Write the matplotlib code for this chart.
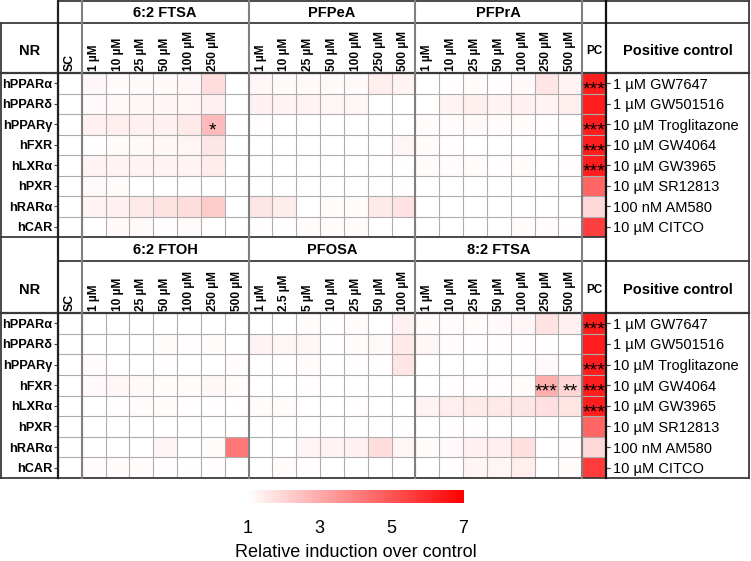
import numpy as np
import matplotlib
matplotlib.use('Agg')
import matplotlib.pyplot as plt
from matplotlib.colors import LinearSegmentedColormap

plt.rcParams['font.family'] = ['Liberation Sans', 'DejaVu Sans']

# ---------------- data ----------------
nr_labels = ['hPPARα', 'hPPARδ', 'hPPARγ', 'hFXR', 'hLXRα', 'hPXR', 'hRARα', 'hCAR']
pc_labels = ['1 µM GW7647', '1 µM GW501516', '10 µM Troglitazone', '10 µM GW4064',
             '10 µM GW3965', '10 µM SR12813', '100 nM AM580', '10 µM CITCO']

groups_top = ['6:2 FTSA', 'PFPeA', 'PFPrA']
groups_bottom = ['6:2 FTOH', 'PFOSA', '8:2 FTSA']

conc_62ftsa = ['1 µM', '10 µM', '25 µM', '50 µM', '100 µM', '250 µM', '']
conc_pfpea = ['1 µM', '10 µM', '25 µM', '50 µM', '100 µM', '250 µM', '500 µM']
conc_pfpra = ['1 µM', '10 µM', '25 µM', '50 µM', '100 µM', '250 µM', '500 µM']
conc_62ftoh = ['1 µM', '10 µM', '25 µM', '50 µM', '100 µM', '250 µM', '500 µM']
conc_pfosa = ['1 µM', '2.5 µM', '5 µM', '10 µM', '25 µM', '50 µM', '100 µM']
conc_82ftsa = ['1 µM', '10 µM', '25 µM', '50 µM', '100 µM', '250 µM', '500 µM']

nan = np.nan
sc_values = [1.0, 1.0, 1.0, 1.0, 1.0, 1.0, 1.0, 1.0]

vals_62ftsa = [
    [1.20, 1.10, 1.15, 1.15, 1.20, 1.80, nan],
    [1.15, 1.15, 1.20, 1.25, 1.25, 1.35, nan],
    [1.35, 1.40, 1.35, 1.35, 1.50, 2.60, nan],
    [1.05, 1.10, 1.15, 1.20, 1.25, 1.60, nan],
    [1.30, 1.30, 1.30, 1.30, 1.30, 1.45, nan],
    [1.15, 1.10, 1.00, 1.00, 1.05, 1.00, nan],
    [1.30, 1.35, 1.50, 1.70, 1.80, 2.20, nan],
    [1.00, 1.15, 1.15, 1.05, 1.10, 1.00, nan],
]
vals_pfpea = [
    [1.20, 1.15, 1.15, 1.15, 1.15, 1.40, 1.30],
    [1.35, 1.30, 1.30, 1.25, 1.20, 1.00, 1.00],
    [1.05, 1.00, 1.00, 1.00, 1.00, 1.00, 1.00],
    [1.00, 1.00, 1.00, 1.00, 1.00, 1.00, 1.25],
    [1.00, 1.00, 1.00, 1.00, 1.00, 1.00, 1.05],
    [1.00, 1.00, 1.00, 1.00, 1.00, 1.00, 1.05],
    [1.60, 1.45, 1.00, 1.10, 1.10, 1.50, 1.70],
    [1.05, 1.05, 1.10, 1.10, 1.10, 1.00, 1.00],
]
vals_pfpra = [
    [1.00, 1.05, 1.10, 1.05, 1.15, 1.60, 1.30],
    [1.00, 1.30, 1.40, 1.30, 1.35, 1.30, 1.40],
    [1.10, 1.10, 1.15, 1.10, 1.10, 1.05, 1.05],
    [1.10, 1.05, 1.00, 1.00, 1.00, 1.00, 1.00],
    [1.10, 1.10, 1.10, 1.05, 1.10, 1.00, 1.05],
    [1.00, 1.00, 1.00, 1.00, 1.00, 1.00, 1.00],
    [1.00, 1.00, 1.00, 1.00, 1.00, 1.00, 1.00],
    [1.00, 1.00, 1.00, 1.00, 1.10, 1.10, 1.05],
]
vals_62ftoh = [
    [1.00, 1.00, 1.00, 1.00, 1.00, 1.00, 1.00],
    [1.00, 1.00, 1.00, 1.10, 1.05, 1.10, 1.00],
    [1.10, 1.00, 1.00, 1.05, 1.00, 1.00, 1.10],
    [1.15, 1.20, 1.15, 1.10, 1.10, 1.20, 1.10],
    [1.00, 1.05, 1.10, 1.10, 1.05, 1.05, 1.05],
    [1.00, 1.00, 1.00, 1.00, 1.00, 1.00, 1.00],
    [1.00, 1.00, 1.00, 1.25, 1.00, 1.10, 4.20],
    [1.10, 1.10, 1.10, 1.05, 1.05, 1.05, 1.00],
]
vals_pfosa = [
    [1.00, 1.00, 1.10, 1.05, 1.10, 1.00, 1.35],
    [1.30, 1.25, 1.20, 1.05, 1.10, 1.15, 1.50],
    [1.00, 1.05, 1.10, 1.00, 1.05, 1.05, 1.60],
    [1.00, 1.00, 1.05, 1.00, 1.00, 1.00, 1.00],
    [1.10, 1.10, 1.00, 1.00, 1.05, 1.00, 1.00],
    [1.00, 1.00, 1.00, 1.00, 1.00, 1.00, 1.05],
    [1.00, 1.00, 1.25, 1.30, 1.35, 1.80, 1.25],
    [1.00, 1.10, 1.05, 1.00, 1.00, 1.00, 1.00],
]
vals_82ftsa = [
    [1.10, 1.10, 1.10, 1.15, 1.20, 1.70, 1.35],
    [1.20, 1.10, 1.05, 1.05, 1.05, 1.05, 1.00],
    [1.00, 1.00, 1.00, 1.00, 1.00, 1.15, 1.00],
    [1.00, 1.05, 1.05, 1.05, 1.10, 2.90, 2.00],
    [1.30, 1.40, 1.50, 1.55, 1.60, 1.75, 1.65],
    [1.00, 1.05, 1.05, 1.00, 1.00, 1.00, 1.00],
    [1.10, 1.15, 1.35, 1.40, 1.75, 1.00, 1.05],
    [1.00, 1.05, 1.25, 1.25, 1.40, 1.00, 1.10],
]
pc_values_top = [6.3, 6.3, 6.3, 6.3, 6.3, 4.6, 1.9, 5.5]
pc_values_bottom = [6.3, 6.3, 6.3, 6.3, 6.3, 4.6, 1.9, 5.6]
pc_sig = ['***', '', '***', '***', '***', '', '', '']

# significance marks: (row, column within compound group, mark)
sig_top = {0: [(2, 5, '*')], 1: [], 2: []}
sig_bottom = {0: [], 1: [], 2: [(3, 5, '***'), (3, 6, '**')]}

cbar_ticks = [1, 3, 5, 7]
cbar_label = 'Relative induction over control'

# ---------------- layout (pixels) ----------------
W, H = 751, 561
X0, X1 = 58, 606          # heat-map columns (SC ... PC)
XR = 749                  # right border
NCOL = 23
CW = (X1 - X0) / NCOL

panels = [
    dict(t=1, h1=23, h2=73, b=237, groups=groups_top,
         concs=[conc_62ftsa, conc_pfpea, conc_pfpra],
         vals=[vals_62ftsa, vals_pfpea, vals_pfpra], pc=pc_values_top, sig=sig_top),
    dict(t=237, h1=261, h2=313, b=478, groups=groups_bottom,
         concs=[conc_62ftoh, conc_pfosa, conc_82ftsa],
         vals=[vals_62ftoh, vals_pfosa, vals_82ftsa], pc=pc_values_bottom, sig=sig_bottom),
]

cmap = LinearSegmentedColormap.from_list('wr', ['#ffffff', '#ff0000'])
cmap.set_bad('#ffffff')

fig = plt.figure(figsize=(W / 100, H / 100), dpi=100)
cv = fig.add_axes([0, 0, 1, 1], zorder=5)
cv.set_xlim(0, W)
cv.set_ylim(H, 0)
cv.axis('off')
cv.patch.set_alpha(0)

def cx(i):
    return X0 + (i + 0.5) * CW

def hline(y, xa, xb, c, lw):
    cv.plot([xa, xb], [y, y], color=c, lw=lw, solid_capstyle='projecting')

def vline(x, ya, yb, c, lw):
    cv.plot([x, x], [ya, yb], color=c, lw=lw, solid_capstyle='projecting')

for p in panels:
    mat = np.column_stack([np.array(sc_values)] +
                          [np.array(v, dtype=float) for v in p['vals']] +
                          [np.array(p['pc'])])
    ax = fig.add_axes([X0 / W, 1 - p['b'] / H, (X1 - X0) / W, (p['b'] - p['h2']) / H], zorder=1)
    ax.pcolormesh(np.ma.masked_invalid(mat), cmap=cmap, vmin=1, vmax=7)
    ax.set_xlim(0, NCOL)
    ax.set_ylim(len(nr_labels), 0)
    ax.set_xticks(np.arange(NCOL + 1), minor=True)
    ax.set_yticks(np.arange(len(nr_labels) + 1), minor=True)
    ax.grid(which='minor', color='#adadad', lw=0.8)
    ax.set_axisbelow(False)
    ax.set_xticks([])
    ax.set_yticks(np.arange(len(nr_labels)) + 0.5)
    ax.set_yticklabels(nr_labels, fontsize=9.2, fontweight='bold')
    ax.tick_params(axis='y', which='major', length=3, width=0.8, color='#444', pad=1,
                   left=True, right=True)
    ax.tick_params(which='minor', length=0)
    for s in ax.spines.values():
        s.set_visible(False)
    sec = ax.secondary_yaxis('right')
    sec.set_yticks(np.arange(len(pc_labels)) + 0.5)
    sec.set_yticklabels(pc_labels, fontsize=10.5)
    sec.tick_params(length=3, width=0.8, color='#444', pad=2)
    sec.spines['right'].set_visible(False)

    # significance marks
    for g, lst in p['sig'].items():
        for (r, c, m) in lst:
            ax.text(1 + g * 7 + c + 0.5, r + 0.5 + 0.55, m, ha='center', va='baseline',
                    fontsize=14, color='black')
    for r, m in enumerate(pc_sig):
        if m:
            ax.text(NCOL - 0.5, r + 0.5 + 0.55, m, ha='center', va='baseline',
                    fontsize=14, color='black')

    # header texts
    ymid1 = (p['t'] + p['h1']) / 2
    ymid2 = (p['h1'] + p['h2']) / 2 + 3
    cv.text(X0 / 2 + 1, ymid2, 'NR', ha='center', va='center', fontsize=10.5, fontweight='bold')
    cv.text(cx(0), p['h2'] - 2, 'SC', ha='center', va='bottom', rotation=90,
            fontsize=8.8, fontweight='bold')
    for g, name in enumerate(p['groups']):
        gx = X0 + (1 + g * 7 + 3.5) * CW
        cv.text(gx, ymid1 + 0.5, name, ha='center', va='center', fontsize=10.5, fontweight='bold')
        for j, lab in enumerate(p['concs'][g]):
            if lab:
                cv.text(cx(1 + g * 7 + j), p['h2'] - 2, lab, ha='center', va='bottom',
                        rotation=90, fontsize=8.6, fontweight='bold')
    cv.text(cx(NCOL - 1), ymid2, 'PC', ha='center', va='center', fontsize=8.5, fontweight='bold')
    cv.text((X1 + XR) / 2, ymid2, 'Positive control', ha='center', va='center',
            fontsize=10.5, fontweight='bold')

# frame lines
dark = '#3a3a3a'
mid = '#808080'
top, bot = panels
hline(top['t'], X0, XR, dark, 1.3)
hline(top['h1'], 0.8, XR, dark, 1.3)
hline(top['h2'], 0.8, XR, dark, 1.6)
hline(top['b'], 0.8, X1, dark, 1.3)
hline(bot['h1'], X0, XR, dark, 1.3)
hline(bot['h2'], 0.8, XR, dark, 1.6)
hline(bot['b'], 0.8, XR, dark, 1.3)
vline(0.8, top['h1'], bot['b'], dark, 1.3)
vline(X0, top['t'], bot['b'], '#222222', 1.6)
for k in [1, 8, 15, 22]:
    vline(X0 + k * CW, top['t'], bot['b'], mid, 1.5)
vline(X1, top['t'], bot['b'], '#111111', 1.6)
vline(XR, top['t'], bot['b'], dark, 1.3)

# colour bar
cax = fig.add_axes([248 / W, 1 - 503 / H, (463 - 248) / W, 13 / H])
grad = np.linspace(1, 7, 256)[None, :]
cax.imshow(grad, cmap=cmap, vmin=1, vmax=7, aspect='auto', extent=[1, 7, 0, 1])
cax.set_xlim(1, 7)
cax.set_yticks([])
cax.set_xticks(cbar_ticks)
cax.set_xticklabels([str(t) for t in cbar_ticks], fontsize=13)
cax.tick_params(axis='x', length=0, pad=12)
cax.set_xlabel(cbar_label, fontsize=13, labelpad=5)
for s in cax.spines.values():
    s.set_visible(False)

fig.savefig('out.png', dpi=100)
